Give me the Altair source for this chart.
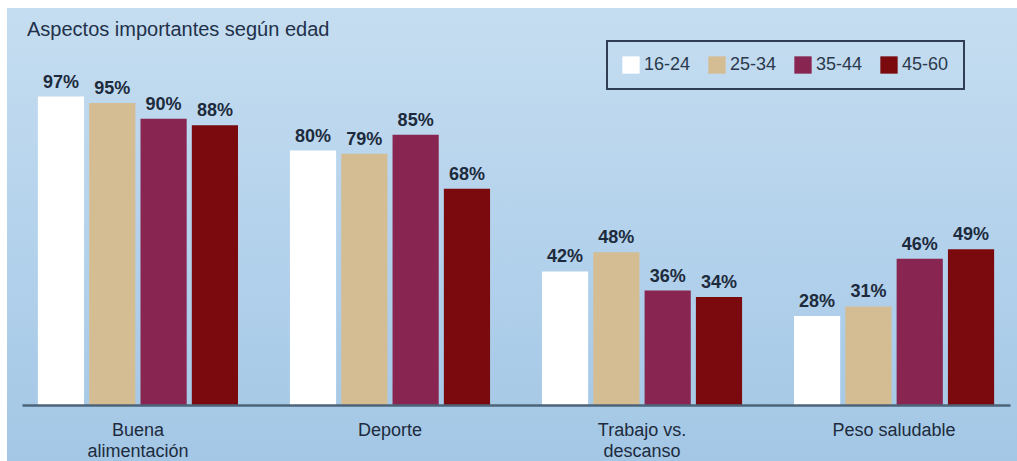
import altair as alt
import pandas as pd

# ---- data ----
categories = ["Buena\nalimentación", "Deporte", "Trabajo vs.\ndescanso", "Peso saludable"]
ages = ["16-24", "25-34", "35-44", "45-60"]
v_16_24 = [97, 80, 42, 28]
v_25_34 = [95, 79, 48, 31]
v_35_44 = [90, 85, 36, 46]
v_45_60 = [88, 68, 34, 49]
age_colors = ["#ffffff", "#d5bd93", "#882551", "#7b0a0f"]
title_text = "Aspectos importantes según edad"

series = [v_16_24, v_25_34, v_35_44, v_45_60]
rows = []
for age, vals in zip(ages, series):
    for cat, v in zip(categories, vals):
        rows.append({"category": cat, "age": age, "value": v, "label": f"{v}%"})
df = pd.DataFrame(rows)

ink = "#1d2b3d"

x_enc = alt.X(
    "category:N",
    sort=categories,
    scale=alt.Scale(paddingInner=0.206, paddingOuter=0.063),
    axis=alt.Axis(
        title=None, labelAngle=0, ticks=False, tickSize=0,
        labelPadding=25, labelBaseline="middle", labelLineHeight=21,
        labelFontSize=18, labelFont="Liberation Sans", labelColor=ink,
        labelExpr="split(datum.label, '\\n')", labelLimit=0,
        domainColor="#4d637a", domainWidth=2.5, zindex=1,
    ),
)
xo_enc = alt.XOffset("age:N", sort=ages, scale=alt.Scale(paddingInner=0.1, paddingOuter=0))
y_enc = alt.Y("value:Q", scale=alt.Scale(domain=[0, 100], nice=False, zero=True), axis=None)

background = alt.Chart(pd.DataFrame({"a": [0]})).mark_rect(
    color=alt.LinearGradient(
        gradient="linear",
        stops=[
            alt.GradientStop(color="#c5ddf0", offset=0),
            alt.GradientStop(color="#b4d2ec", offset=0.5),
            alt.GradientStop(color="#a3c7e5", offset=1),
        ],
        x1=0, x2=0, y1=0, y2=1,
    )
).encode(
    x=alt.value(-15), x2=alt.value(995), y=alt.value(-79), y2=alt.value(374)
)

bars = alt.Chart(df).mark_bar().encode(
    x=x_enc,
    xOffset=xo_enc,
    y=y_enc,
    color=alt.Color(
        "age:N", sort=ages,
        scale=alt.Scale(domain=ages, range=age_colors),
        legend=alt.Legend(
            title=None, orient="none", legendX=585, legendY=-46,
            direction="horizontal", symbolType="square", symbolSize=300,
            symbolStrokeWidth=0, labelFontSize=18, labelFont="Liberation Sans",
            labelColor="#2b394c", labelOffset=4, columnPadding=17,
            padding=15, strokeColor="#2f3e52",
        ),
    ),
)

labels = alt.Chart(df).mark_text(
    baseline="alphabetic", dy=-9, fontWeight="bold", fontSize=18,
    font="Liberation Sans", color=ink,
).encode(x=x_enc, xOffset=xo_enc, y=y_enc, text="label:N")

chart = alt.layer(background, bars, labels).properties(
    width=988, height=318,
    autosize=alt.AutoSizeParams(type="none"),
    padding={"left": 22, "top": 87, "right": 7, "bottom": 56},
    background="white",
    title=alt.TitleParams(
        title_text, anchor="start", font="Liberation Sans", fontSize=20,
        fontWeight="normal", color="#22314a", offset=-32, dx=20,
    ),
).configure_view(stroke=None).configure_legend(strokeWidth=2)

chart.save("out.html", embed_options={"renderer": "svg", "actions": False})
